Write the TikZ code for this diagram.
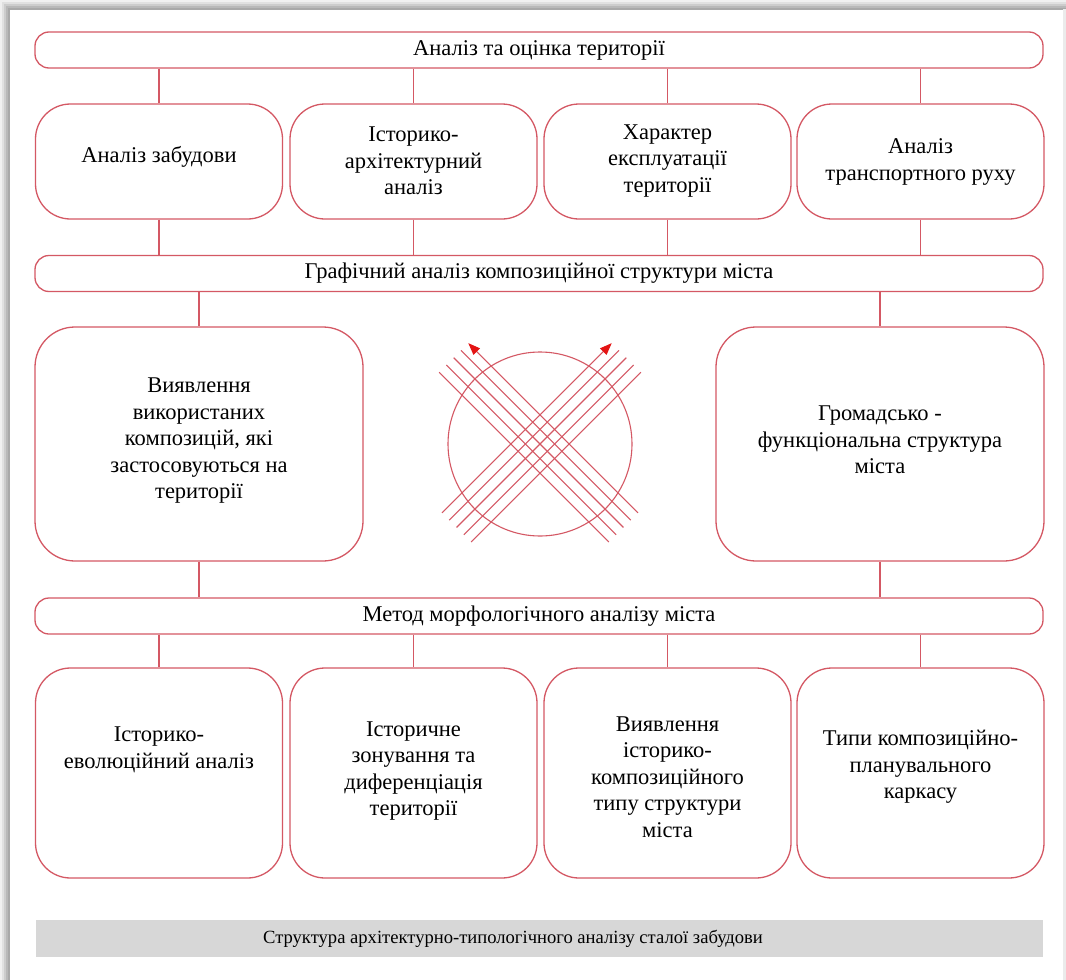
\documentclass[tikz,border=0pt]{standalone}
\usepackage{fontspec}
\setmainfont{Liberation Serif}
\usetikzlibrary{arrows.meta}
\definecolor{bred}{RGB}{212,88,100}
\definecolor{ared}{RGB}{228,20,20}
\definecolor{capgray}{RGB}{215,215,215}
\begin{document}
\begin{tikzpicture}[x=1pt,y=-1pt,
  box/.style={draw=bred, line width=1.3pt, rounded corners=35pt, inner sep=0pt},
  bigbox/.style={draw=bred, line width=1.3pt, rounded corners=40pt, inner sep=0pt, minimum width=328pt, minimum height=234pt},
  rowone/.style={box, minimum width=247pt, minimum height=115pt},
  rowtwo/.style={box, minimum width=247pt, minimum height=210pt},
  bar/.style={draw=bred, line width=1.3pt, rounded corners=14pt, minimum width=1008pt, minimum height=36pt, inner sep=0pt, font=\fontsize{22.5}{26.5}\selectfont},
  txt/.style={align=center, font=\fontsize{22.5}{26.5}\selectfont, inner sep=0pt},
  conn/.style={draw=bred, line width=1.3pt},
  xline/.style={draw=bred, line width=1.1pt},
  arr/.style={-{Triangle[length=12pt,width=9pt,color=ared]}}
]
\useasboundingbox (0,0) rectangle (1066,980);
% page with shadow
\fill[black!6] (0,0) rectangle (1066,980);
\fill[black!12] (2,2) rectangle (1066,980);
\fill[black!20] (4,4) rectangle (1066,980);
\fill[black!28] (6,6) rectangle (1066,980);
\fill[black!34] (8,8) rectangle (1066,980);
\fill[black!8] (1063,9) rectangle (1066,980);
\fill[white] (10,10) rectangle (1063,980);

% bars
\node[bar] (bar1) at (539,50) {Аналіз та оцінка території};
\node[bar] (bar2) at (539,273.5) {Графічний аналіз композиційної структури міста};
\node[bar] (bar3) at (539,616) {Метод морфологічного аналізу міста};

% row 1
\node[rowone] (b11) at (159,161.5) {};
\node[rowone] (b12) at (413.5,161.5) {};
\node[rowone] (b13) at (667.5,161.5) {};
\node[rowone] (b14) at (920.5,161.5) {};
\node[txt] (t11) at (159,157) {Аналіз забудови};
\node[txt] (t12) at (413.5,161) {Історико-\\архітектурний\\аналіз};
\node[txt] (t13) at (667.5,161) {Характер\\експлуатації\\території};
\node[txt] (t14) at (920.5,162) {Аналіз\\транспортного руху};

% big boxes
\node[bigbox] (bl) at (199,444) {};
\node[bigbox] (br) at (880,444) {};
\node[txt] (tbl) at (199,441) {Виявлення\\використаних\\композицій, які\\застосовуються на\\території};
\node[txt] (tbr) at (880,440) {Громадсько -\\функціональна структура\\міста};

% row 2
\node[rowtwo] (b21) at (159,773) {};
\node[rowtwo] (b22) at (413.5,773) {};
\node[rowtwo] (b23) at (667.5,773) {};
\node[rowtwo] (b24) at (920.5,773) {};
\node[txt] (t21) at (159,750) {Історико-\\еволюційний аналіз};
\node[txt] (t22) at (413.5,771) {Історичне\\зонування та\\диференціація\\території};
\node[txt] (t23) at (667.5,777) {Виявлення\\історико-\\композиційного\\типу структури\\міста};
\node[txt] (t24) at (920.5,767) {Типи композиційно-\\планувального\\каркасу};

% connectors
\foreach \b in {b11,b12,b13,b14}{
  \draw[conn] (bar1.south -| \b.north) -- (\b.north);
  \draw[conn] (\b.south) -- (bar2.north -| \b.south);
}
\foreach \b in {bl,br}{
  \draw[conn] (bar2.south -| \b.north) -- (\b.north);
  \draw[conn] (\b.south) -- (bar3.north -| \b.south);
}
\foreach \b in {b21,b22,b23,b24}{
  \draw[conn] (bar3.south -| \b.north) -- (\b.north);
}

% central symbol
\coordinate (X) at (540,444);
\draw[xline] (X) circle (92);
\begin{scope}[shift={(X)}]
  \foreach \k in {-2,-1,0,1} {
    \draw[xline] (\k*7.28+83.4, -\k*7.28+83.4) -- (\k*7.28-86.3, -\k*7.28-86.3);
    \draw[xline] (-\k*7.28-83.4, -\k*7.28+83.4) -- (-\k*7.28+86.3, -\k*7.28-86.3);
  }
  \draw[xline,arr] (2*7.28+83.4, -2*7.28+83.4) -- (2*7.28-86.3, -2*7.28-86.3);
  \draw[xline,arr] (-2*7.28-83.4, -2*7.28+83.4) -- (-2*7.28+86.3, -2*7.28-86.3);
\end{scope}

% caption
\fill[capgray] (36,920) rectangle (1043,957);
\node[font=\fontsize{18.6}{21}\selectfont, inner sep=0pt] (cap) at (513,938.5) {Структура архітектурно-типологічного аналізу сталої забудови};
\end{tikzpicture}
\end{document}
